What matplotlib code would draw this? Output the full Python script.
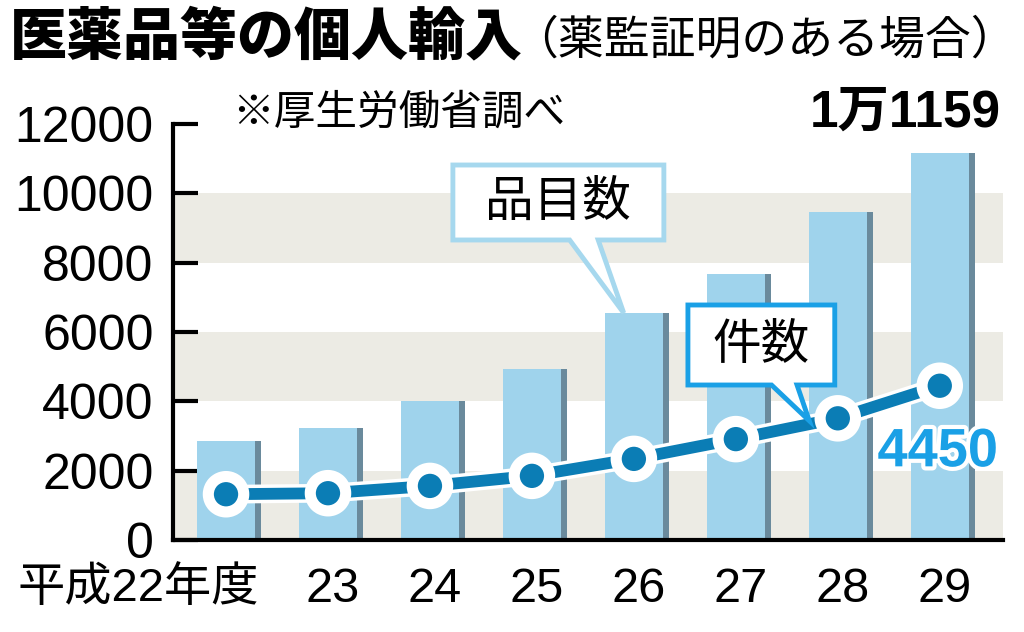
import matplotlib.pyplot as plt
import matplotlib.patheffects as pe
from matplotlib.patches import Polygon

# データ（平成22〜29年度、厚生労働省調べ）
years = ['平成22年度', '23', '24', '25', '26', '27', '28', '29']
items = [2850, 3230, 4010, 4930, 6550, 7660, 9460, 11159]   # 品目数
cases = [1320, 1350, 1560, 1850, 2340, 2910, 3510, 4450]    # 件数
yticks = [0, 2000, 4000, 6000, 8000, 10000, 12000]

jp = 'Noto Sans CJK JP'
latin = 'Liberation Sans'

bar_c = '#9fd3ec'
shadow_c = '#6a8a9c'
band_c = '#ecebe4'
line_c = '#0b7db5'
light_blue = '#1aa0e6'

fig = plt.figure(figsize=(10.24, 6.32), dpi=100)
ax = fig.add_axes([173 / 1024, 92 / 632, 830 / 1024, 416 / 632])

x = list(range(len(years)))

# 背景の帯
for lo in (0, 4000, 8000):
    ax.axhspan(lo, lo + 2000, color=band_c, zorder=0, lw=0)

# 棒（右側に影）
w = 0.57
ax.bar(x, items, width=w, color=bar_c, zorder=2, lw=0)
ax.bar([i + w / 2 + 0.03 for i in x], items, width=0.06, color=shadow_c, zorder=2, lw=0)

# 折れ線
ax.plot(x, cases, color=line_c, lw=8.5, marker='o', markersize=20,
        markerfacecolor=line_c, markeredgecolor='white', markeredgewidth=2.5,
        zorder=4, solid_capstyle='round',
        path_effects=[pe.Stroke(linewidth=13.5, foreground='white'), pe.Normal()])

ax.set_xlim(-0.52, 7.62)
ax.set_ylim(0, 12000)
ax.set_yticks(yticks)
ax.set_yticklabels([str(v) for v in yticks], family=latin, fontsize=36)
ax.tick_params(axis='y', direction='in', length=18, width=3, pad=14)
ax.set_xticks([])
for s in ('top', 'right'):
    ax.spines[s].set_visible(False)
for s in ('left', 'bottom'):
    ax.spines[s].set_linewidth(3)
ax.spines['left'].set_bounds(0, 12000)

# x軸ラベル
for i, lab in enumerate(years):
    if i == 0:
        ax.text(i + 0.32, -780, lab, ha='right', va='top', fontsize=34,
                family=[latin, jp])
    else:
        ax.text(i + 0.05, -780, lab, ha='center', va='top', fontsize=35, family=[latin, jp])

# 最終値ラベル
ax.text(7.6, 11600, '1万1159', ha='right', va='bottom', fontsize=37,
        fontweight='bold', family=[latin, jp], clip_on=False)
ax.text(6.98, 3250, '4450', ha='center', va='top', fontsize=39,
        fontweight='bold', family=latin, color=light_blue, zorder=6,
        path_effects=[pe.withStroke(linewidth=6, foreground='white')])

# 吹き出し
def callout(x0, x1, y0, y1, b0, b1, tip, text, edge):
    pts = [(x0, y1), (x1, y1), (x1, y0), (b1, y0), tip, (b0, y0), (x0, y0)]
    ax.add_patch(Polygon(pts, closed=True, facecolor='white', edgecolor=edge,
                         lw=3.5, zorder=7, joinstyle='miter'))
    ax.text((x0 + x1) / 2, (y0 + y1) / 2, text, ha='center', va='center',
            fontsize=35, family=jp, zorder=8)

callout(2.225, 4.294, 8654, 10817, 3.37, 3.65, (3.9, items[4]), '品目数', '#a6d8ee')
callout(4.53, 5.97, 4471, 6779, 5.35, 5.6, (5.72, 3440), '件数', light_blue)

# タイトル
fig.text(10 / 1024, 1 - 38 / 632, '医薬品等の個人輸入', ha='left', va='center',
         fontsize=41, fontweight='heavy', family=jp)
fig.text(512 / 1024, 1 - 40 / 632, '（薬監証明のある場合）', ha='left', va='center',
         fontsize=33, family=jp)
fig.text(232 / 1024, 1 - 113 / 632, '※厚生労働省調べ', ha='left', va='center',
         fontsize=30, family=jp)

plt.savefig('out.png', dpi=100)
